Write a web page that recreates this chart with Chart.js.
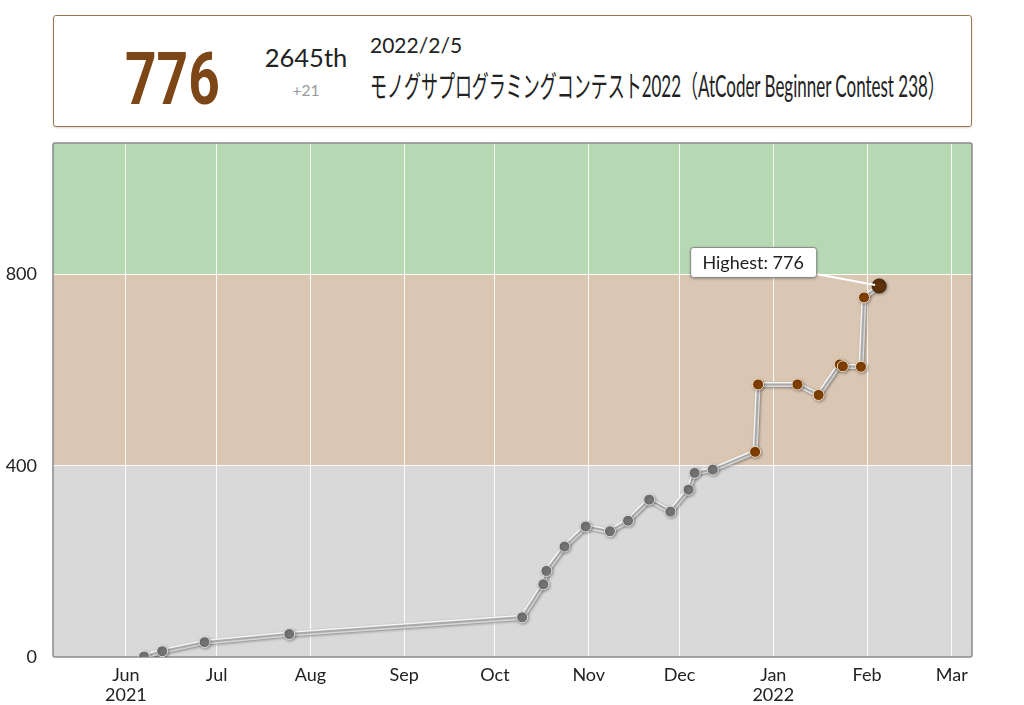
<!DOCTYPE html>
<html>
<head>
<meta charset="utf-8">
<script src="https://cdn.jsdelivr.net/npm/chart.js@4/dist/chart.umd.min.js"></script>
<style>
  body { margin: 0; background: #fff; width: 1024px; height: 705px; overflow: hidden; position: relative; font-family: Lato, sans-serif; }
  #status { position: absolute; left: 53px; top: 15px; width: 917px; height: 110px; border: 1px solid #9b7653; border-radius: 3px; box-shadow: 0 1px 2px rgba(0,0,0,.15); }
  .t { position: absolute; white-space: nowrap; line-height: 1; color: #222; }
  #chart { position: absolute; left: 0; top: 0; }
</style>
</head>
<body>
<div id="status"></div>
<div class="t" id="rating" style="left:125px;top:36px;font:bold 73px Roboto,sans-serif;color:#7d4616;transform-origin:left center;">776</div>
<div class="t" style="left:256px;width:100px;text-align:center;top:45px;font-size:25.5px;">2645th</div>
<div class="t" style="left:256px;width:100px;text-align:center;top:83px;font-size:15.5px;color:#999;">+21</div>
<div class="t" style="left:370px;top:34px;font-size:21px;">2022/2/5</div>
<div class="t" id="contest" style="left:370px;top:70px;font-size:30px;font-family:Lato,'Noto Sans CJK JP',sans-serif;transform-origin:left center;">モノグサプログラミングコンテスト2022（AtCoder Beginner Contest 238）</div>
<canvas id="chart" width="1024" height="705"></canvas>
<script>
// contest dates and rating after each contest
const contestDates = [
  '2021-06-07', '2021-06-13', '2021-06-27', '2021-07-25', '2021-10-10',
  '2021-10-17', '2021-10-18', '2021-10-24', '2021-10-31', '2021-11-08',
  '2021-11-14', '2021-11-21', '2021-11-28', '2021-12-04', '2021-12-06',
  '2021-12-12', '2021-12-26', '2021-12-27', '2022-01-09', '2022-01-16',
  '2022-01-23', '2022-01-24', '2022-01-30', '2022-01-31', '2022-02-05'
];
const ratings = [
  1, 12, 31, 48, 83,
  152, 180, 231, 273, 263,
  285, 329, 304, 350, 385,
  392, 429, 570, 570, 548,
  612, 608, 607, 752, 776
];
const monthTicks = ['2021-06-01', '2021-07-01', '2021-08-01', '2021-09-01', '2021-10-01',
  '2021-11-01', '2021-12-01', '2022-01-01', '2022-02-01', '2022-03-01'];
const monthLabels = [['Jun', '2021'], 'Jul', 'Aug', 'Sep', 'Oct', 'Nov', 'Dec', ['Jan', '2022'], 'Feb', 'Mar'];
const ratingTicks = [0, 400, 800];
const rankBounds = [0, 400, 800, 1075];

const toDay = s => {
  const p = s.split('-').map(Number);
  return Date.UTC(p[0], p[1] - 1, p[2]) / 864e5;
};

// squeeze header texts to the widths of the original
const squeeze = (id, width) => {
  const el = document.getElementById(id);
  el.style.transform = 'scaleX(' + (width / el.offsetWidth) + ')';
};
squeeze('contest', 575);
squeeze('rating', 95);

const bandColors = ['#d9d9d9', '#d9c6b3', '#b6d8b3'];
const points = contestDates.map((d, i) => ({ x: toDay(d), y: ratings[i] }));
const best = ratings.indexOf(Math.max(...ratings));

const bandsPlugin = {
  id: 'bands',
  beforeDraw(chart) {
    const { ctx, chartArea: a, scales: { y } } = chart;
    ctx.save();
    for (let i = 0; i < bandColors.length; i++) {
      const top = Math.max(y.getPixelForValue(rankBounds[i + 1]), a.top);
      const bottom = Math.min(y.getPixelForValue(rankBounds[i]), a.bottom);
      ctx.fillStyle = bandColors[i];
      ctx.fillRect(a.left, top, a.right - a.left, bottom - top);
    }
    ctx.restore();
  },
  beforeDatasetsDraw(chart) {
    const { ctx, chartArea: a } = chart;
    ctx.save();
    ctx.strokeStyle = '#8a8a8a';
    ctx.lineWidth = 1.5;
    ctx.beginPath();
    ctx.roundRect(a.left, a.top, a.right - a.left, a.bottom - a.top, 2);
    ctx.stroke();
    ctx.restore();
    // soft shadow under line and points
    ctx.save();
    ctx.shadowColor = 'rgba(0,0,0,0.3)';
    ctx.shadowBlur = 3;
    ctx.shadowOffsetX = 1;
    ctx.shadowOffsetY = 1;
  },
  afterDatasetsDraw(chart) {
    chart.ctx.restore();
  },
  afterDraw(chart) {
    const { ctx } = chart;
    const pt = chart.getDatasetMeta(1).data[best];
    const w = 126, h = 30;
    const bx = pt.x - 63 - w, by = pt.y - 39;
    ctx.save();
    ctx.strokeStyle = '#fff';
    ctx.lineWidth = 2;
    ctx.beginPath();
    ctx.moveTo(bx + w, by + h - 3);
    ctx.lineTo(pt.x - 4, pt.y - 1);
    ctx.stroke();
    ctx.shadowColor = 'rgba(0,0,0,0.35)';
    ctx.shadowBlur = 3;
    ctx.shadowOffsetY = 1;
    ctx.fillStyle = '#fff';
    ctx.strokeStyle = '#888';
    ctx.lineWidth = 1;
    ctx.beginPath();
    ctx.roundRect(bx + 0.5, by + 0.5, w, h, 3);
    ctx.fill();
    ctx.shadowColor = 'transparent';
    ctx.stroke();
    ctx.fillStyle = '#222';
    ctx.font = '18px Lato';
    ctx.textAlign = 'center';
    ctx.textBaseline = 'middle';
    ctx.fillText('Highest: ' + ratings[best], bx + w / 2, by + h / 2 + 1);
    ctx.restore();
  }
};

new Chart(document.getElementById('chart'), {
  type: 'line',
  data: {
    datasets: [
      {
        data: points,
        borderColor: 'rgba(255,255,255,0.95)',
        borderWidth: 5,
        pointRadius: 0,
        tension: 0,
        order: 2
      },
      {
        data: points,
        borderColor: '#a9a9a9',
        borderWidth: 2,
        tension: 0,
        order: 1,
        pointRadius: ratings.map((r, i) => i === best ? 7 : 5.5),
        pointBackgroundColor: ratings.map((r, i) => i === best ? '#5e300c' : (r < 400 ? '#737373' : '#7f3f00')),
        pointBorderColor: ratings.map((r, i) => i === best ? '#3f2208' : (r < 400 ? '#e2e2e2' : '#f2dcc5')),
        pointBorderWidth: 1
      }
    ]
  },
  options: {
    responsive: false,
    animation: false,
    layout: { padding: { top: 143, right: 52, left: 0, bottom: 0 } },
    plugins: { legend: { display: false }, tooltip: { enabled: false } },
    scales: {
      x: {
        type: 'linear',
        min: toDay('2021-06-01') - 24.1,
        max: toDay('2022-03-01') + 6.7,
        afterBuildTicks: scale => { scale.ticks = monthTicks.map(d => ({ value: toDay(d) })); },
        afterFit: scale => { scale.height = 48; },
        grid: { color: 'rgba(255,255,255,0.9)', lineWidth: 1, drawTicks: false },
        border: { display: false },
        ticks: {
          autoSkip: false,
          maxRotation: 0,
          padding: 8,
          color: '#222',
          font: { family: 'Lato', size: 18, lineHeight: 1.1 },
          callback: (v, i) => monthLabels[i]
        }
      },
      y: {
        min: 0,
        max: rankBounds[rankBounds.length - 1],
        afterBuildTicks: scale => { scale.ticks = ratingTicks.map(v => ({ value: v })); },
        afterFit: scale => { scale.width = 53; },
        grid: { color: 'rgba(255,255,255,0.9)', lineWidth: 1, drawTicks: false },
        border: { display: false },
        ticks: {
          padding: 16,
          color: '#222',
          font: { family: 'Lato', size: 18 }
        }
      }
    }
  },
  plugins: [bandsPlugin]
});
</script>
</body>
</html>
